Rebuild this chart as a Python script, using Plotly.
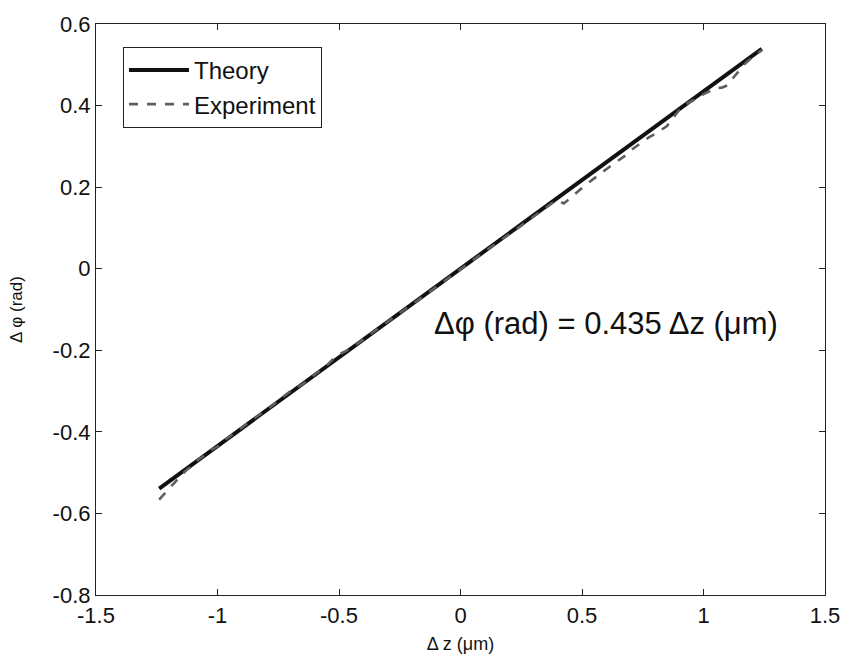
import plotly.graph_objects as go

theory_x = [-1.24, 1.24]
theory_y = [-0.539, 0.539]

exp_x = [-1.24, -1.225, -1.2, -1.175, -1.15, -1.125, -1.1, -1.075, -1.05, -1.025,
         -1.0, -0.975, -0.95, -0.925, -0.9, -0.875, -0.85, -0.825, -0.8, -0.775,
         -0.75, -0.725, -0.7, -0.675, -0.65, -0.625, -0.6, -0.575, -0.55, -0.525,
         -0.5, -0.475, -0.45, -0.425, -0.4, -0.375, -0.35, -0.325, -0.3, -0.275,
         -0.25, -0.225, -0.2, -0.175, -0.15, -0.125, -0.1, -0.075, -0.05, -0.025,
         0.0, 0.025, 0.05, 0.075, 0.1, 0.125, 0.15, 0.175, 0.2, 0.225,
         0.25, 0.275, 0.3, 0.325, 0.35, 0.375, 0.4, 0.41, 0.425, 0.45,
         0.475, 0.5, 0.525, 0.55, 0.575, 0.6, 0.625, 0.65, 0.675, 0.7,
         0.725, 0.75, 0.775, 0.8, 0.825, 0.85, 0.875, 0.9, 0.925, 0.95,
         0.975, 1.0, 1.025, 1.05, 1.075, 1.1, 1.125, 1.15, 1.175, 1.2,
         1.225, 1.24]
exp_y = [-0.566, -0.556, -0.538, -0.522, -0.507, -0.492, -0.481, -0.466, -0.457, -0.444,
         -0.436, -0.421, -0.412, -0.399, -0.390, -0.378, -0.368, -0.357, -0.346, -0.336,
         -0.324, -0.312, -0.300, -0.292, -0.283, -0.271, -0.259, -0.248, -0.237, -0.222,
         -0.210, -0.203, -0.195, -0.184, -0.173, -0.163, -0.152, -0.141, -0.130, -0.120,
         -0.108, -0.097, -0.087, -0.077, -0.066, -0.055, -0.044, -0.034, -0.022, -0.012,
         -0.001, 0.010, 0.021, 0.031, 0.042, 0.053, 0.063, 0.075, 0.085, 0.095,
         0.106, 0.116, 0.127, 0.137, 0.148, 0.160, 0.168, 0.164, 0.160, 0.172,
         0.186, 0.198, 0.210, 0.222, 0.233, 0.244, 0.255, 0.266, 0.276, 0.290,
         0.301, 0.312, 0.322, 0.330, 0.340, 0.350, 0.370, 0.389, 0.403, 0.410,
         0.418, 0.428, 0.436, 0.442, 0.444, 0.450, 0.470, 0.487, 0.505, 0.518,
         0.530, 0.536]

x_ticks = [-1.5, -1, -0.5, 0, 0.5, 1, 1.5]
x_tick_text = ["-1.5", "-1", "-0.5", "0", "0.5", "1", "1.5"]
y_ticks = [-0.8, -0.6, -0.4, -0.2, 0, 0.2, 0.4, 0.6]
y_tick_text = ["-0.8", "-0.6", "-0.4", "-0.2", "0", "0.2", "0.4", "0.6"]

FONT = "Liberation Sans, Arial"

fig = go.Figure()
fig.add_trace(go.Scatter(x=theory_x, y=theory_y, mode="lines", name="Theory",
                         line=dict(color="#111111", width=4)))
fig.add_trace(go.Scatter(x=exp_x, y=exp_y, mode="lines", name="Experiment",
                         line=dict(color="#5e5e5e", width=2.6, dash="dash")))

axis_common = dict(showgrid=False, zeroline=False, showline=True, linecolor="#222",
                   linewidth=1.2, mirror="ticks", ticks="inside", ticklen=6,
                   tickcolor="#222", tickfont=dict(family=FONT, size=22, color="#111"))

fig.update_xaxes(range=[-1.5, 1.5], tickvals=x_ticks, ticktext=x_tick_text,
                 title=dict(text="Δ z (μm)", font=dict(family=FONT, size=18, color="#111"), standoff=10),
                 **axis_common)
fig.update_yaxes(range=[-0.8, 0.6], tickvals=y_ticks, ticktext=y_tick_text,
                 title=dict(text="Δ φ (rad)", font=dict(family=FONT, size=17, color="#111"), standoff=25),
                 **axis_common)

fig.add_annotation(x=0.6, y=-0.134, xref="x", yref="y", text="Δφ (rad) = 0.435 Δz (μm)",
                   showarrow=False, font=dict(family=FONT, size=31, color="#111"))

fig.update_layout(
    width=852, height=662,
    margin=dict(l=96, r=20, t=16, b=66),
    plot_bgcolor="white", paper_bgcolor="white",
    legend=dict(x=0.037, y=0.96, xanchor="left", yanchor="top",
                bordercolor="#222", borderwidth=1, bgcolor="white",
                font=dict(family=FONT, size=24, color="#111"),
                tracegroupgap=0, itemwidth=60),
    showlegend=True,
)

fig.write_html("out.html")
